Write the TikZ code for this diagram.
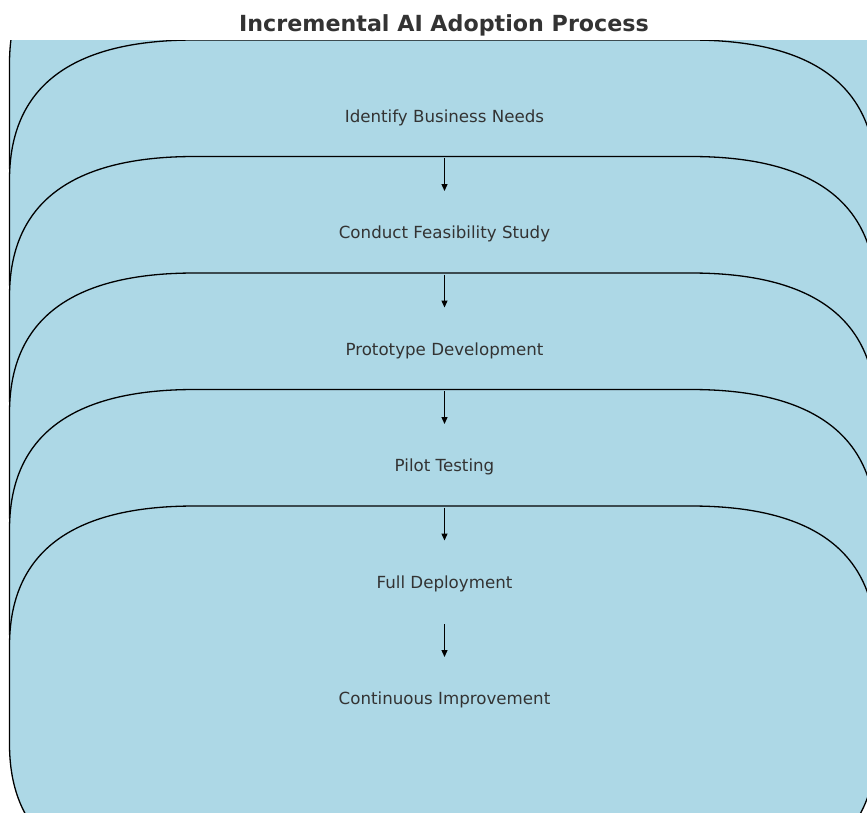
\documentclass[tikz,border=0pt]{standalone}
\usepackage{fontspec}
\setmainfont{DejaVu Sans}
\usetikzlibrary{arrows.meta}
\definecolor{boxfill}{HTML}{ADD8E6}
\definecolor{txt}{HTML}{333333}
\begin{document}
\begin{tikzpicture}[x=1pt,y=-1pt,
  stagebox/.style={fill=boxfill,draw=black,line width=1.3pt},
  steplabel/.style={font=\fontsize{16.67}{20}\selectfont,text=txt,anchor=base,inner sep=0pt},
  titlelabel/.style={font=\fontsize{22.2}{26}\selectfont\bfseries,text=txt,anchor=base,inner sep=0pt},
  flowarrow/.style={-{Triangle[length=7pt,width=6pt]},line width=1.3pt,draw=black}]
\useasboundingbox (0,0) rectangle (867,812);
\begin{scope}
\clip (0,40) rectangle (867,812);
\foreach \k in {0,...,5}{
  \pgfmathsetmacro\T{-76.5+116.5*\k}
  \pgfmathsetmacro\B{\T+378}
  \path[stagebox] (9.5,\T+140) .. controls (9.5,\T+46.67) and (71.17,\T) .. (194.5,\T)
    -- (691,\T) .. controls (814.33,\T) and (876,\T+46.67) .. (876,\T+140)
    -- (876,\B-140) .. controls (876,\B-46.67) and (814.33,\B) .. (691,\B)
    -- (194.5,\B) .. controls (71.17,\B) and (9.5,\B-46.67) .. (9.5,\B-140) -- cycle;
}
\end{scope}
\node[titlelabel] (title) at (444,31.5) {Incremental AI Adoption Process};
\node[steplabel] (s1) at (444.5,122.3) {Identify Business Needs};
\node[steplabel] (s2) at (444.5,238.8) {Conduct Feasibility Study};
\node[steplabel] (s3) at (444.5,355.3) {Prototype Development};
\node[steplabel] (s4) at (444.5,471.8) {Pilot Testing};
\node[steplabel] (s5) at (444.5,588.3) {Full Deployment};
\node[steplabel] (s6) at (444.5,704.8) {Continuous Improvement};
\foreach \i in {1,...,5}{
  \coordinate (a\i t) at (444.5,41.5+116.5*\i);
  \coordinate (a\i h) at (444.5,74.5+116.5*\i);
}
\draw[flowarrow] (a1t) -- (a1h);
\draw[flowarrow] (a2t) -- (a2h);
\draw[flowarrow] (a3t) -- (a3h);
\draw[flowarrow] (a4t) -- (a4h);
\draw[flowarrow] (a5t) -- (a5h);
\end{tikzpicture}
\end{document}
